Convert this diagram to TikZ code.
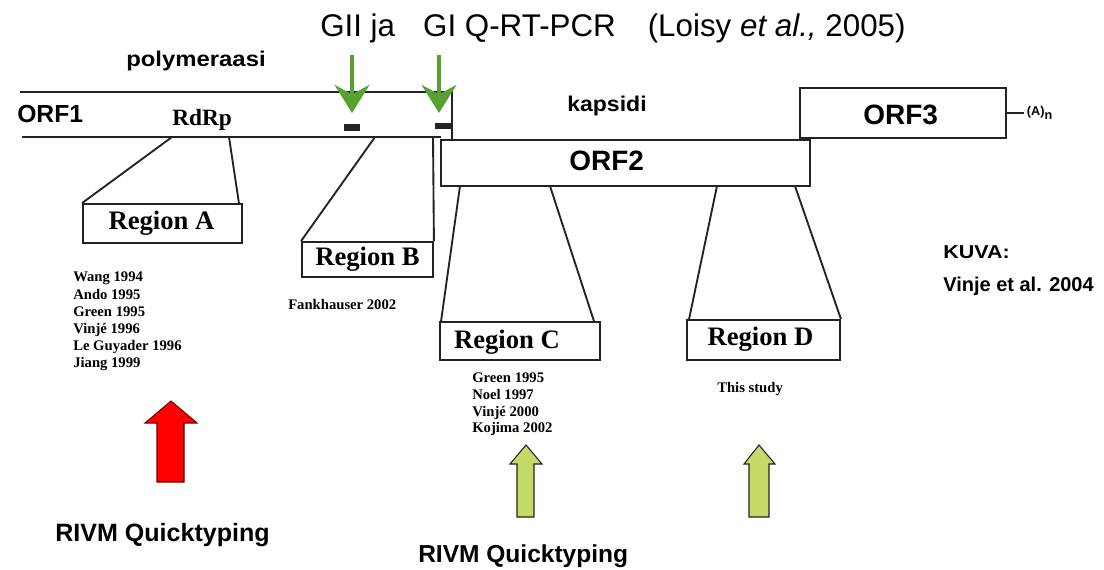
\documentclass[tikz,border=0pt]{standalone}
\usepackage{fontspec}
\usepackage{graphicx}
\setmainfont{Liberation Serif}
\newfontfamily\sansf{Liberation Sans}
\usetikzlibrary{arrows.meta,fit,calc}
\definecolor{arrowgreen}{RGB}{88,160,48}
\definecolor{lightgreen}{RGB}{196,218,104}
\definecolor{darkline}{RGB}{35,35,35}
\begin{document}
\begin{tikzpicture}[x=0.75pt,y=-0.75pt,
  line/.style={draw=darkline, line width=1.4pt},
  gbox/.style={line, inner sep=0pt},
  regtext/.style={inner sep=0pt, font=\bfseries\fontsize{20}{22}\selectfont},
  orflabel/.style={anchor=base west, inner sep=0pt, font=\sansf\bfseries\fontsize{21}{24}\selectfont},
  sanslabel/.style={anchor=base west, inner sep=0pt, font=\sansf\bfseries\fontsize{16}{19}\selectfont},
  reflist/.style={anchor=north west, inner sep=0pt, align=left, font=\bfseries\fontsize{11}{12.8}\selectfont},
  pcrarrow/.style={draw=arrowgreen, line width=3pt, -{Stealth[length=21pt,width=26pt,inset=7pt]}},
  bigarrow/.style={line width=0.8pt, line join=miter},
  probe/.style={fill=darkline},
  rivm/.style={anchor=base west, inner sep=0pt, font=\sansf\bfseries\fontsize{18.8}{22}\selectfont}
]
\useasboundingbox[fill=white] (0,0) rectangle (1104,569);

% title
\node[anchor=base west, inner sep=0pt, font=\sansf\fontsize{23.5}{27}\selectfont] (title) at (320,36)
  {GII ja\hspace{21pt}GI Q-RT-PCR\hspace{24pt}(Loisy \textit{et al.,} 2005)};
\node[anchor=base west, inner sep=0pt, font=\sansf\bfseries\fontsize{16}{19}\selectfont] (poly) at (126,66)
  {\scalebox{1.12}[1]{polymeraasi}};

% ORF1 (open at left)
\coordinate (o1tl) at (20,92);
\coordinate (o1tr) at (452,92);
\coordinate (o1br) at (452,140);
\coordinate (o1bl) at (22,137);
\coordinate (o1be) at (441,137);
\draw[line] (o1tl) -- (o1tr) -- (o1br);
\draw[line] (o1bl) -- (o1be);
\node[orflabel, font=\sansf\bfseries\fontsize{18.5}{22}\selectfont] (orf1) at (17,122) {ORF1};
\node[anchor=base west, inner sep=0pt, font=\bfseries\fontsize{17.5}{20}\selectfont] (rdrp) at (172,125) {RdRp};

% ORF2, ORF3
\node[gbox, fit={(441,140) (810,186)}] (orf2) {};
\node[orflabel] (orf2l) at (569,170) {ORF2};
\node[gbox, fit={(800,88) (1006,138)}] (orf3) {};
\node[orflabel] (orf3l) at (863,124) {ORF3};
\node[sanslabel, font=\sansf\bfseries\fontsize{16}{19}\selectfont] (kaps) at (567,111) {\scalebox{1.08}[1]{kapsidi}};
\node[anchor=west, inner sep=2pt, font=\sansf\bfseries\fontsize{9.5}{11}\selectfont] (an) at (1024,113) {(A)\raisebox{-2.5pt}{n}};
\draw[line, line width=1pt] (orf3.east) -- (an.west);

% probes and PCR arrows
\fill[probe] (344,124) rectangle (360,131);
\fill[probe] (435,123) rectangle (452,129);
\coordinate (g1s) at (352,55);
\coordinate (g1e) at (352,113);
\coordinate (g2s) at (439,55);
\coordinate (g2e) at (439,113);
\draw[pcrarrow] (g1s) -- (g1e);
\draw[pcrarrow] (g2s) -- (g2e);

% Region boxes
\node[gbox, fit={(83,204) (242,243)}] (regA) {};
\node[gbox, fit={(302,242) (433,277)}] (regB) {};
\node[gbox, fit={(440,322) (600,360)}] (regC) {};
\node[gbox, fit={(687,320) (840,360)}] (regD) {};
\node[regtext] (regAl) at ($(regA.center)+(-1,0)$) {Region A};
\node[regtext] (regBl) at ($(regB.center)+(0,0)$) {Region B};
\node[regtext] (regCl) at ($(regC.center)+(-13,1)$) {Region C};
\node[regtext] (regDl) at ($(regD.center)+(-3,-1)$) {Region D};

% connectors
\coordinate (ra1) at (172,137);
\coordinate (ra2) at (229,137);
\coordinate (rb1) at (375,137);
\coordinate (rb2) at (433,137);
\coordinate (rc1) at (460,186);
\coordinate (rc2) at (550,186);
\coordinate (rd1) at (717,186);
\coordinate (rd2) at (795,186);
\draw[line] (regA.north west) -- (ra1);
\draw[line] ($(regA.north east)+(-4,0)$) -- (ra2);
\draw[line] (regB.north west) -- (rb1);
\draw[line] (regB.north east) -- (rb2);
\draw[line] ($(regC.north west)+(2,0)$) -- (rc1);
\draw[line] ($(regC.north east)+(-7,0)$) -- (rc2);
\draw[line] ($(regD.north west)+(3,0)$) -- (rd1);
\draw[line] (regD.north east) -- (rd2);

% reference lists
\node[reflist] (listA) at (73,272) {Wang 1994\\Ando 1995\\Green 1995\\Vinj\'e 1996\\Le Guyader 1996\\Jiang 1999};
\node[anchor=base west, inner sep=0pt, font=\bfseries\fontsize{11}{12.8}\selectfont] (listB) at (288,309) {Fankhauser 2002};
\node[reflist, font=\bfseries\fontsize{11}{12.5}\selectfont] (listC) at (472,373) {Green 1995\\Noel 1997\\Vinj\'e 2000\\Kojima 2002};
\node[anchor=base west, inner sep=0pt, font=\bfseries\fontsize{11}{12.8}\selectfont] (listD) at (717,392) {This study};

% KUVA
\node[sanslabel, font=\sansf\bfseries\fontsize{14}{17}\selectfont] (kuva) at (943,258) {\scalebox{1.15}[1]{KUVA:}};
\node[sanslabel, font=\sansf\bfseries\fontsize{15}{18}\selectfont] (vinje) at (943,291) {Vinje et al. 2004};

% big arrows
\draw[bigarrow, fill=red, draw=red!45!black] (171,401) -- (197,423) -- (184,423) -- (184,482) -- (157,482) -- (157,423) -- (145,423) -- cycle;
\draw[bigarrow, fill=lightgreen, draw=darkline] (526,445) -- (542,464) -- (534,464) -- (534,517) -- (517,517) -- (517,464) -- (510,464) -- cycle;
\draw[bigarrow, fill=lightgreen, draw=darkline] (759,445) -- (775,464) -- (769,464) -- (769,517) -- (749,517) -- (749,464) -- (744,464) -- cycle;

% RIVM labels
\node[rivm] (rivm1) at (55,541) {RIVM Quicktyping};
\node[rivm, font=\sansf\bfseries\fontsize{18.4}{22}\selectfont] (rivm2) at (418,562) {RIVM Quicktyping};
\end{tikzpicture}
\end{document}
